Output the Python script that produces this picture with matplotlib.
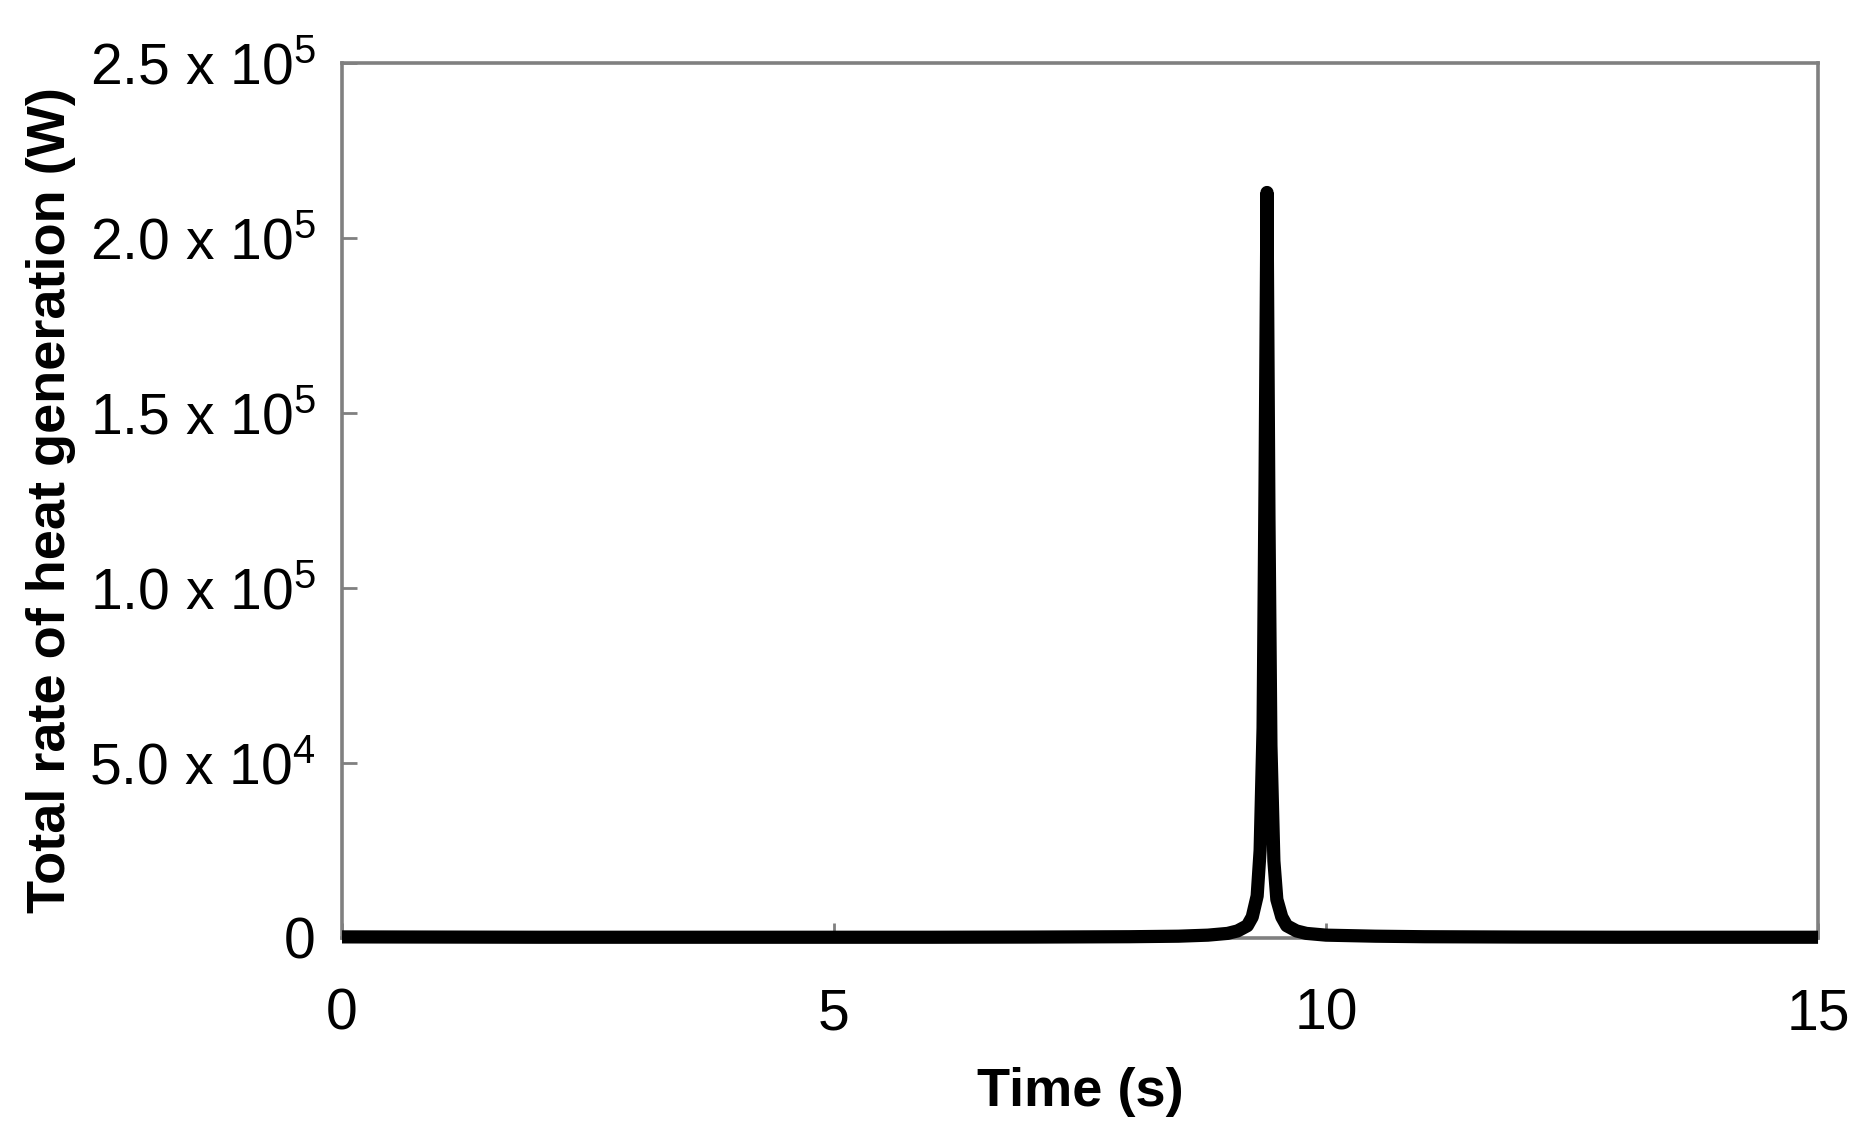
import matplotlib
matplotlib.use("Agg")
import matplotlib.pyplot as plt

plt.rcParams['font.family'] = ['Liberation Sans', 'DejaVu Sans']
plt.rcParams['mathtext.fontset'] = 'custom'
plt.rcParams['mathtext.rm'] = 'Liberation Sans'
plt.rcParams['mathtext.it'] = 'Liberation Sans:italic'
plt.rcParams['mathtext.bf'] = 'Liberation Sans:bold'

# Data (time in s, total heat generation rate in W)
time_s = [0, 1, 2, 3, 4, 5, 6, 7, 8, 8.5, 8.8, 9.0, 9.1, 9.2, 9.25, 9.3, 9.33,
          9.36, 9.38, 9.40, 9.42, 9.44, 9.47, 9.5, 9.55, 9.6, 9.7, 9.8, 10.0,
          10.5, 11, 12, 13, 14, 15]
heat_W = [300, 250, 200, 200, 200, 200, 200, 250, 350, 500, 800, 1300, 2000,
          3500, 6000, 12000, 25000, 60000, 130000, 213000, 120000, 55000, 22000,
          11000, 6000, 3500, 2000, 1300, 800, 500, 350, 250, 200, 200, 200]

x_ticks = [0, 5, 10, 15]
x_ticklabels = ['0', '5', '10', '15']
y_ticks = [0, 50000, 100000, 150000, 200000, 250000]
y_ticklabels = ['0', '5.0 x 10$^{4}$', '1.0 x 10$^{5}$', '1.5 x 10$^{5}$',
                '2.0 x 10$^{5}$', '2.5 x 10$^{5}$']

fig = plt.figure(figsize=(18.71, 11.43), dpi=100)
ax = fig.add_axes([0.1828, 0.1794, 0.9717 - 0.1828, 0.9449 - 0.1794])

ax.plot(time_s, heat_W, color='black', lw=9.5, solid_joinstyle='round',
        solid_capstyle='butt', zorder=3, clip_on=False)

ax.set_xlim(0, 15)
ax.set_ylim(0, 250000)
ax.set_xticks(x_ticks)
ax.set_xticklabels(x_ticklabels)
ax.set_yticks(y_ticks)
ax.set_yticklabels(y_ticklabels)

for s in ax.spines.values():
    s.set_color('#808080')
    s.set_linewidth(2.6)

ax.tick_params(axis='both', direction='in', length=11, width=2, color='#808080',
               labelsize=41, labelcolor='black')
ax.tick_params(axis='y', pad=19)
ax.tick_params(axis='x', pad=36)

ax.set_xlabel('Time (s)', fontsize=39, fontweight='bold')
ax.set_ylabel('Total rate of heat generation (W)', fontsize=39, fontweight='bold')
ax.xaxis.set_label_coords(0.5, -0.147)
ax.yaxis.set_label_coords(-0.180, 0.5)

fig.savefig('out.png', dpi=100, facecolor='white')
